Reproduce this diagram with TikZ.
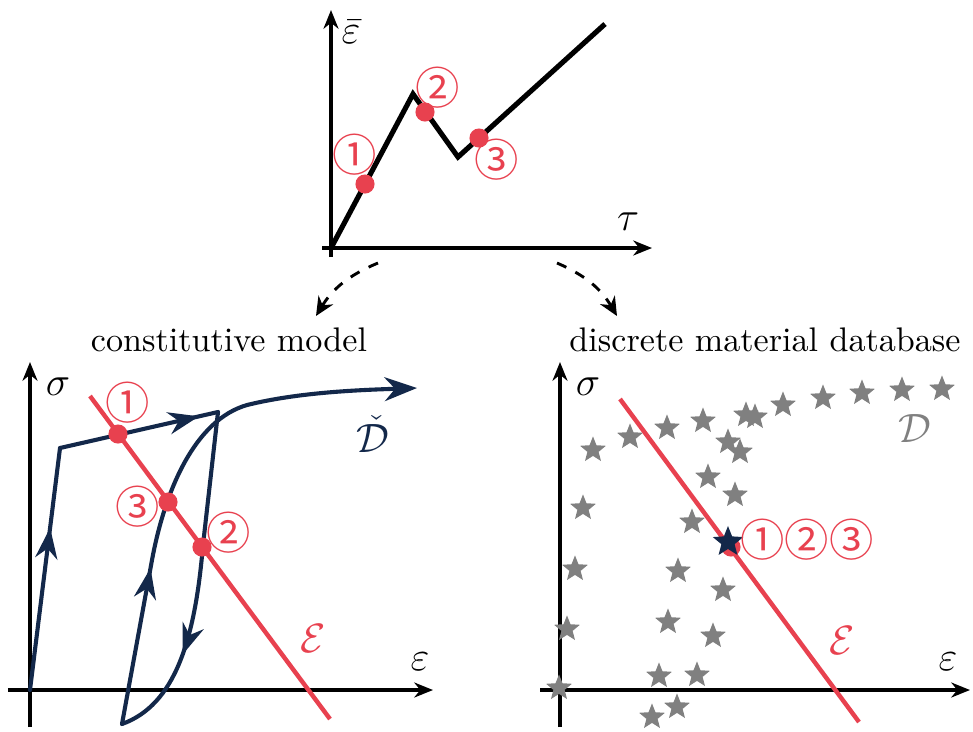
\documentclass[tikz,border=0pt]{standalone}
\usepackage{fontspec}
\usepackage{amsmath}
\usetikzlibrary{arrows.meta, decorations.markings, shapes.geometric}
\newfontfamily\circfont{Noto Sans CJK SC}
\definecolor{ptred}{HTML}{E8414F}
\definecolor{navy}{HTML}{13284A}
\definecolor{stargray}{HTML}{808080}

\begin{document}
\begin{tikzpicture}[x=0.0103cm, y=-0.0103cm,
    axis/.style={black, line width=0.9pt, -{Stealth[length=5.5pt, width=4.4pt]}},
    ptdot/.style={circle, fill=ptred, inner sep=0pt, minimum size=5.6pt},
    circnum/.style={text=ptred, font=\circfont\fontsize{13}{15}\selectfont, inner sep=0pt},
    axlabel/.style={font=\fontsize{11.5}{13}\selectfont, inner sep=0pt},
    setlabel/.style={font=\large, inner sep=0pt},
    loadpath/.style={navy, line width=1.2pt, line cap=round, line join=round},
    midarrow/.style={postaction={decorate}, decoration={markings,
        mark=at position #1 with {\arrow{Stealth[length=9pt, width=6.5pt]}}}},
    constraint/.style={ptred, line width=1.3pt},
    gstar/.style={star, star points=5, star point ratio=2.3, fill=stargray, inner sep=0pt, minimum size=0.28cm},
    follow/.style={dashed, line width=0.85pt, -{Stealth[length=5.5pt, width=5pt]}}]
    \useasboundingbox (0,0) rectangle (973,731);

    % Draw the load history
        \coordinate (to) at (331,248);
        \draw[axis] (331,257) -- (331,10) coordinate (ty);
        \draw[axis] (322,248) -- (652,248) coordinate (tx);
        \node[axlabel] (tylab) at (351,32) {$\bar{\varepsilon}$};
        \node[axlabel] (txlab) at (628,222) {$\tau$};
        \draw[black, line width=1.5pt] (to) -- (413,94) coordinate (tpeak)
            -- (458,157) coordinate (tvalley) -- (605,24) coordinate (tend);
        \node[ptdot] (t1) at (365,184) {};
        \node[ptdot] (t2) at (425,112) {};
        \node[ptdot] (t3) at (479,138) {};
        \node[circnum] (t1lab) at (355,155) {①};
        \node[circnum] (t2lab) at (438,88) {②};
        \node[circnum] (t3lab) at (497,160) {③};

    % Two ways to go on
        \coordinate (lstart) at (378,263);
        \coordinate (lstop) at (316,316);
        \coordinate (rstart) at (557,263);
        \coordinate (rstop) at (617,316);
        \draw[follow] (lstart) to[bend right=18] (lstop);
        \draw[follow] (rstart) to[bend left=18] (rstop);
        \node (modtext) at (229,340) {constitutive model};
        \node (dbtext) at (765,340) {discrete material database};

    % Constitutive model
        \coordinate (lo) at (30,690);
        \draw[axis] (30,727) -- (30,362) coordinate (ly);
        \draw[axis] (8,690) -- (433,690) coordinate (lx);
        \node[axlabel] (lylab) at (58,387) {$\sigma$};
        \node[axlabel] (lxlab) at (420,662) {$\varepsilon$};
        \draw[loadpath, midarrow=0.67] (lo) -- (60,448) coordinate (lyield);
        \draw[loadpath, midarrow=0.88] (lyield) -- (218,412) coordinate (lturn);
        \draw[loadpath, midarrow=0.72] (lturn) -- (203,545)
            .. controls (195,640) and (175,705) .. (122,724) coordinate (lback);
        \draw[loadpath, midarrow=0.30, -{Stealth[length=9.5pt, width=7pt]}] (lback) -- (152,560)
            .. controls (165,490) and (195,420) .. (247,405)
            .. controls (300,392) and (360,390) .. (417,388) coordinate (lfar);
        \node[setlabel, text=navy] (dcheck) at (373,434) {$\check{\mathcal{D}}$};
        \draw[constraint] (90,396) coordinate (le1) -- (330,719) coordinate (le2);
        \node[setlabel, text=ptred] (lelab) at (313,638) {$\mathcal{E}$};
        \node[ptdot] (l1) at (118,434) {};
        \node[ptdot] (l3) at (168,502) {};
        \node[ptdot] (l2) at (202,547) {};
        \node[circnum] (l1lab) at (128,403) {①};
        \node[circnum] (l3lab) at (138,507) {③};
        \node[circnum] (l2lab) at (229,533) {②};

    % Data set
        \coordinate (ro) at (560,690);
        \draw[axis] (560,727) -- (560,362) coordinate (ry);
        \draw[axis] (540,690) -- (970,690) coordinate (rx);
        \node[axlabel] (rylab) at (588,387) {$\sigma$};
        \node[axlabel] (rxlab) at (948,662) {$\varepsilon$};
        \foreach \px/\py [count=\i] in {593/450, 630/437, 667/428, 703/421, 746/415, 755/417,
                783/405, 823/398, 862/393, 902/390, 942/389, 728/442, 740/452, 708/477,
                735/495, 583/508, 692/522, 575/569, 678/571, 723/590, 567/629, 668/622,
                713/636, 659/676, 697/675, 559/688, 677/707, 652/717}
            \node[gstar] (s\i) at (\px,\py) {};
        \node[setlabel, text=stargray] (dlab) at (915,428) {$\mathcal{D}$};
        \draw[constraint] (620,399) coordinate (re1) -- (859,722) coordinate (re2);
        \node[setlabel, text=ptred] (relab) at (842,640) {$\mathcal{E}$};
        \node[ptdot] (rsol) at (731,547) {};
        \node[star, star points=5, star point ratio=2.3, fill=navy, inner sep=0pt,
            minimum size=0.33cm] (rbest) at (728,542) {};
        \node[circnum] (rlab) at (807,540) {①②③};
\end{tikzpicture}
\end{document}
